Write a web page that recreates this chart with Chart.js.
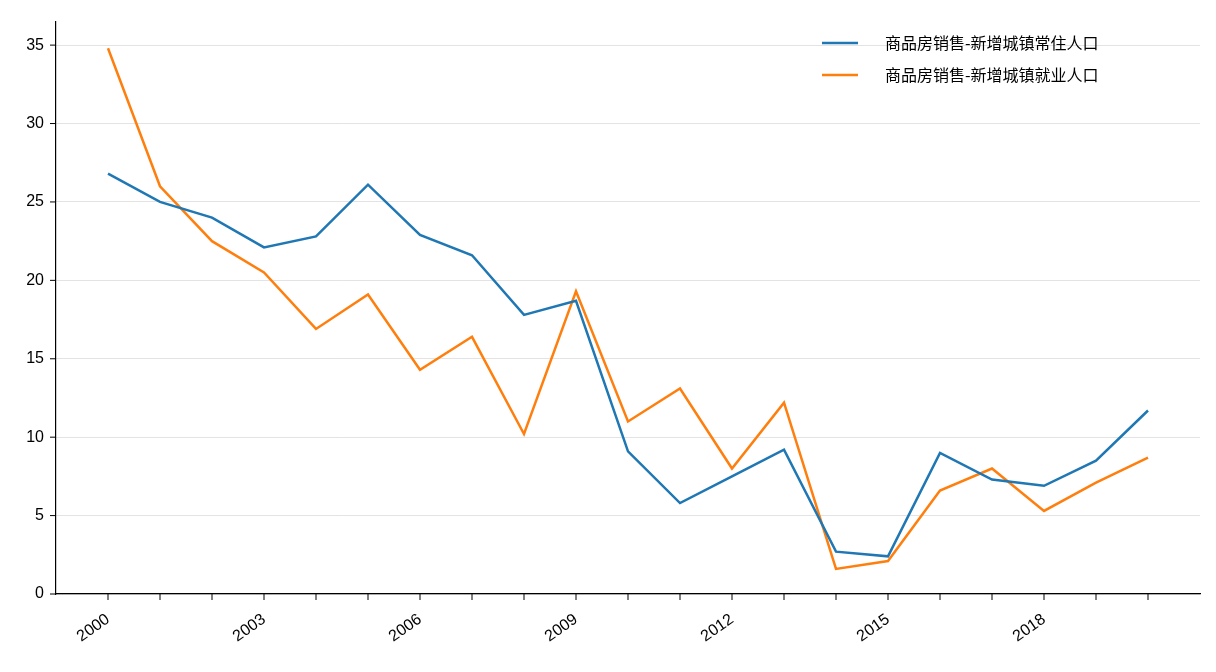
<!DOCTYPE html>
<html><head><meta charset="utf-8">
<script src="https://cdn.jsdelivr.net/npm/chart.js@4"></script>
<style>html,body{margin:0;background:#fff}#wrap{width:1216px;height:672px}</style>
</head><body><div id="wrap"><canvas id="c"></canvas></div>
<script>
const years = [2000,2001,2002,2003,2004,2005,2006,2007,2008,2009,2010,2011,2012,2013,2014,2015,2016,2017,2018,2019,2020];
const resident = [26.8,25.0,24.0,22.1,22.8,26.1,22.9,21.6,17.8,18.7,9.1,5.8,7.5,9.2,2.7,2.4,9.0,7.3,6.9,8.5,11.7];
const employed = [34.8,26.0,22.5,20.5,16.9,19.1,14.3,16.4,10.2,19.3,11.0,13.1,8.0,12.2,1.6,2.1,6.6,8.0,5.3,7.1,8.7];
const yTicks = [0,5,10,15,20,25,30,35];

const font = {family: "Liberation Sans, Arial, 'Noto Sans CJK SC'", size: 16};
const pts = arr => arr.map((v, i) => ({x: years[i], y: v}));

new Chart(document.getElementById("c"), {
  type: "line",
  data: {
    datasets: [
      {label: "商品房销售-新增城镇常住人口", data: pts(resident), borderColor: "#1f77b4", borderWidth: 2.5, pointRadius: 0, tension: 0},
      {label: "商品房销售-新增城镇就业人口", data: pts(employed), borderColor: "#ff7f0e", borderWidth: 2.5, pointRadius: 0, tension: 0},
    ],
  },
  options: {
    responsive: true, maintainAspectRatio: false, animation: false,
    layout: {padding: {top: 14, right: 16, left: 0, bottom: 0}},
    plugins: {legend: {display: false}, tooltip: {enabled: false}},
    scales: {
      x: {
        type: "linear", min: 1999, max: 2021,
        grid: {display: false},
        border: {color: "#000", width: 1.2},
        afterBuildTicks: ax => { ax.ticks = years.map(v => ({value: v})); },
        afterFit: ax => { ax.height = 78; },
        ticks: {
          color: "#000", font, autoSkip: false, maxRotation: 35, minRotation: 35, padding: 8,
          callback: v => ((v - 2000) % 3 === 0 && v <= 2018) ? String(v) : "",
        },
      },
      y: {
        min: 0, max: 36.5,
        afterBuildTicks: ax => { ax.ticks = yTicks.map(v => ({value: v})); },
        afterFit: ax => { ax.width = 56; },
        grid: {color: "#e3e3e3", drawTicks: false, lineWidth: 1},
        border: {color: "#000", width: 1.2},
        ticks: {color: "#000", font, padding: 12},
      },
    },
  },
  plugins: [{
    id: "extras",
    afterDraw(chart) {
      const ctx = chart.ctx, xs = chart.scales.x, ys = chart.scales.y;
      ctx.save(); ctx.strokeStyle = "#000"; ctx.lineWidth = 1;
      for (const v of yTicks) { const y = ys.getPixelForValue(v); ctx.beginPath(); ctx.moveTo(xs.left - 6, y); ctx.lineTo(xs.left, y); ctx.stroke(); }
      for (const v of years) { const x = xs.getPixelForValue(v); ctx.beginPath(); ctx.moveTo(x, ys.bottom); ctx.lineTo(x, ys.bottom + 6); ctx.stroke(); }
      ctx.font = "16px 'Noto Sans CJK SC'"; ctx.fillStyle = "#000"; ctx.textBaseline = "middle";
      chart.data.datasets.forEach((d, i) => {
        const y = 43 + i * 32;
        ctx.strokeStyle = d.borderColor; ctx.lineWidth = 2.5;
        ctx.beginPath(); ctx.moveTo(822, y); ctx.lineTo(858, y); ctx.stroke();
        ctx.fillText(d.label, 885, y);
      });
      ctx.restore();
    },
  }],
});
</script></body></html>
